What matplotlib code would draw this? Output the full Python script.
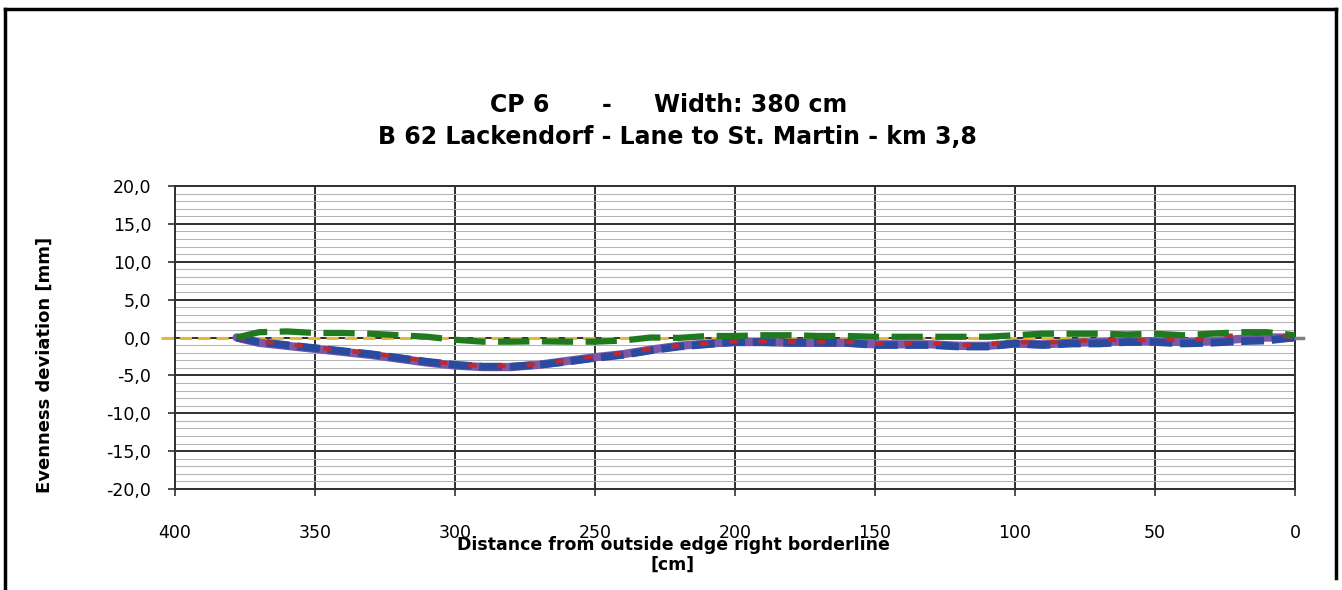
import matplotlib
matplotlib.use("Agg")
import matplotlib.pyplot as plt
from matplotlib.ticker import MultipleLocator, FuncFormatter
from matplotlib.lines import Line2D

plt.rcParams["font.family"] = ["DejaVu Sans"]

# Distance from the outside edge of the right borderline [cm]
distance = [378, 370, 360, 350, 340, 330, 320, 310, 300, 290, 280, 270, 260, 250,
            240, 230, 220, 210, 200, 190, 180, 170, 160, 150, 140, 130, 120, 110,
            100, 90, 80, 70, 60, 50, 40, 30, 20, 10, 0]

# Evenness deviation [mm] per measurement run
run_green = [0.0, 0.7, 0.8, 0.6, 0.6, 0.5, 0.3, 0.1, -0.3, -0.55, -0.55, -0.5, -0.55, -0.55,
             -0.4, 0.0, -0.05, 0.2, 0.2, 0.3, 0.3, 0.2, 0.2, 0.1, 0.1, 0.1, 0.1, 0.1,
             0.3, 0.5, 0.5, 0.5, 0.4, 0.5, 0.3, 0.5, 0.7, 0.7, 0.3]
run_blue = [0.0, -0.6, -1.0, -1.4, -1.8, -2.2, -2.7, -3.2, -3.6, -3.85, -3.85, -3.6, -3.2, -2.7,
            -2.3, -1.7, -1.2, -0.9, -0.6, -0.6, -0.7, -0.7, -0.7, -1.0, -1.0, -1.0, -1.2, -1.2,
            -0.8, -1.0, -0.8, -0.8, -0.6, -0.6, -0.8, -0.7, -0.5, -0.4, 0.0]
run_red = [0.0, -0.5, -0.9, -1.3, -1.7, -2.1, -2.6, -3.1, -3.5, -3.8, -3.8, -3.5, -3.0, -2.5,
           -2.0, -1.5, -1.1, -0.8, -0.5, -0.5, -0.6, -0.6, -0.6, -0.8, -0.8, -0.8, -1.0, -0.9,
           -0.6, -0.7, -0.5, -0.3, -0.4, -0.3, -0.3, -0.1, 0.4, 0.5, 0.0]
run_purple = [0.0, -0.7, -1.1, -1.5, -1.9, -2.3, -2.8, -3.3, -3.7, -3.9, -3.9, -3.6, -3.1, -2.6,
              -2.2, -1.6, -1.1, -0.8, -0.6, -0.6, -0.7, -0.7, -0.7, -0.9, -0.9, -0.9, -1.1, -1.1,
              -0.8, -0.9, -0.7, -0.6, -0.5, -0.5, -0.6, -0.5, -0.2, 0.0, 0.0]
reference_x = [405, 0]
reference_y = [0.0, 0.0]

y_ticks = [20, 15, 10, 5, 0, -5, -10, -15, -20]
x_ticks = [400, 350, 300, 250, 200, 150, 100, 50, 0]

fig = plt.figure(figsize=(13.42, 5.90), dpi=100)
ax = fig.add_axes([0.1304, 0.1712, 0.8346, 0.5135])

# Zero reference line, running slightly past the left edge of the plot
ax.plot(reference_x, reference_y, color="#e8b830", lw=2.2, ls=(0, (4, 2)),
        clip_on=False, zorder=3)
ax.plot(distance, run_purple, color="#7a5aa8", lw=6, solid_capstyle="round", zorder=4)
ax.plot(distance, run_blue, color="#2a4aa0", lw=5.5, ls=(0, (3, 1)), zorder=5)
ax.plot(distance, run_red, color="#c02830", lw=3, ls=(0, (2, 5)), zorder=6)
ax.plot(distance, run_green, color="#1f7a1f", lw=4.5, ls=(0, (5, 2)), zorder=7)
ax.plot([0, -3], [0, 0], color="#808080", lw=2.5, clip_on=False, zorder=3)

ax.set_xlim(400, 0)
ax.set_ylim(-20, 20)
ax.yaxis.set_minor_locator(MultipleLocator(1))
ax.set_xticks(x_ticks)
ax.set_yticks(y_ticks)
ax.yaxis.set_major_formatter(FuncFormatter(lambda v, p: f"{v:.1f}".replace(".", ",")))
ax.xaxis.set_major_formatter(FuncFormatter(lambda v, p: f"{v:.0f}"))

ax.grid(which="minor", axis="y", color="#b4b4b4", lw=0.75)
ax.grid(which="major", axis="both", color="#303030", lw=1.4)
ax.set_axisbelow(True)
ax.tick_params(axis="y", which="minor", length=0)
ax.tick_params(axis="both", which="major", length=5, width=1.2, color="#303030",
               labelsize=12.5, pad=12)
ax.tick_params(axis="x", which="major", pad=20)
for s in ax.spines.values():
    s.set_color("#303030")
    s.set_linewidth(1.4)

ax.set_ylabel("Evenness deviation [mm]", fontsize=13, fontweight="bold", va="center")
ax.yaxis.set_label_coords(-0.116, 0.41)

fig.text(0.3651, 0.822, "CP 6", fontsize=17, fontweight="bold", ha="left", va="center")
fig.text(0.4523, 0.822, "-", fontsize=17, fontweight="bold", ha="center", va="center")
fig.text(0.4870, 0.822, "Width: 380 cm", fontsize=17, fontweight="bold", ha="left", va="center")
fig.text(0.5050, 0.768, "B 62 Lackendorf - Lane to St. Martin - km 3,8", fontsize=17,
         fontweight="bold", ha="center", va="center")
fig.text(0.5015, 0.077, "Distance from outside edge right borderline", fontsize=12.5,
         fontweight="bold", ha="center", va="center")
fig.text(0.5015, 0.042, "[cm]", fontsize=12.5, fontweight="bold", ha="center", va="center")

# Frame around the chart area (open at the bottom)
frame = dict(color="black", lw=2.5, transform=fig.transFigure)
fig.add_artist(Line2D([0.0035, 0.9955], [0.984, 0.984], **frame))
fig.add_artist(Line2D([0.0035, 0.0035], [0.0, 0.984], **frame))
fig.add_artist(Line2D([0.9955, 0.9955], [0.02, 0.984], **frame))

fig.savefig("out.png", dpi=100)
